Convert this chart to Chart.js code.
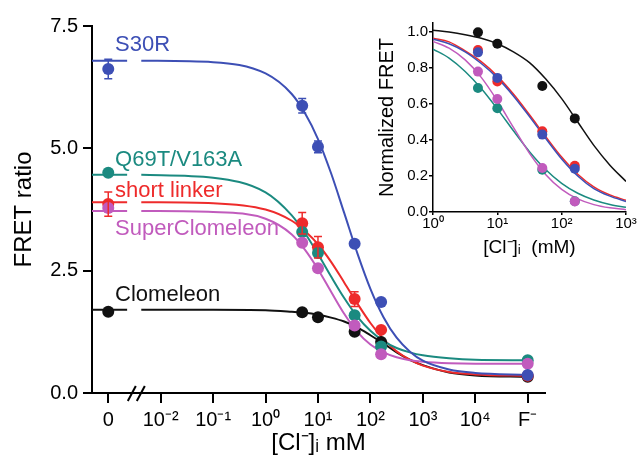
<!DOCTYPE html>
<html>

<head>
  <title>FRET ratio vs chloride</title>
  <script src="https://cdn.jsdelivr.net/npm/chart.js"></script>
  <style>
    body {
      margin: 0;
      background: #fff;
    }

    .wrap {
      position: relative;
      width: 637px;
      height: 468px;
    }

    #inset {
      position: absolute;
      left: 378px;
      top: 0;
    }
  </style>
</head>

<body>
  <div class="wrap">
    <canvas id="main" width="637" height="468"></canvas>
    <canvas id="inset" width="259" height="265"></canvas>
  </div>
  <script>
    // x axis is log10([Cl-] mM); "0" and "F-" columns sit one decade past the ends
    const zeroPos = -3;
    const fluoridePos = 5;
    const breakPos = -2.465;
    const clConc = [5, 10, 50, 160]; // mM

    const xTickPos = [-3, -2, -1, 0, 1, 2, 3, 4, 5];
    const xTickLabels = ['0', '10⁻²', '10⁻¹', '10⁰', '10¹', '10²', '10³', '10⁴', 'F⁻'];
    const yTicks = [0, 2.5, 5, 7.5];

    const names = ['S30R', 'Q69T/V163A', 'short linker', 'SuperClomeleon', 'Clomeleon'];
    const colors = ['#3d4fb5', '#1b8a80', '#ee2b2b', '#c15bbd', '#111111'];
    const drawRank = [0, 2, 3, 1, 4]; // 0 = on top

    // FRET ratio at [0 mM, 5, 10, 50, 160 mM, F-]
    const s30r = [6.62, 5.87, 5.03, 3.05, 1.86, 0.37];
    const q69t = [4.50, 3.29, 2.86, 1.59, 0.95, 0.67];
    const linker = [3.86, 3.47, 2.98, 1.92, 1.29, 0.35];
    const superClom = [3.78, 3.07, 2.55, 1.38, 0.79, 0.60];
    const clomeleon = [1.66, 1.65, 1.55, 1.25, 1.04, 0.33];

    const s30rErr = [0.2, 0.15, 0.12, 0, 0, 0];
    const linkerErr = [0.25, 0.22, 0.22, 0.15, 0, 0];

    // fitted curves (null = axis break)
    const fitX = [-3.31, -2.64, -2.5, -2.37, -1, 0, 0.5, 0.75, 1, 1.25, 1.5, 1.75, 2, 2.25, 2.5, 2.75, 3, 3.5, 4, 5];
    const s30rFit = [6.79, 6.79, null, 6.79, 6.76, 6.53, 6.11, 5.72, 5.19, 4.49, 3.68, 2.86, 2.13, 1.55, 1.13, 0.85, 0.66, 0.48, 0.41, 0.37];
    const q69tFit = [4.46, 4.46, null, 4.46, 4.40, 4.10, 3.63, 3.27, 2.84, 2.38, 1.94, 1.56, 1.27, 1.06, 0.92, 0.83, 0.77, 0.71, 0.68, 0.67];
    const linkerFit = [3.90, 3.90, null, 3.90, 3.88, 3.75, 3.52, 3.31, 3.04, 2.68, 2.26, 1.83, 1.43, 1.10, 0.85, 0.68, 0.56, 0.43, 0.38, 0.35];
    const superFit = [3.72, 3.72, null, 3.72, 3.70, 3.56, 3.24, 2.93, 2.53, 2.07, 1.62, 1.25, 0.99, 0.83, 0.73, 0.67, 0.64, 0.61, 0.60, 0.60];
    const clomFit = [1.70, 1.70, null, 1.70, 1.70, 1.69, 1.66, 1.64, 1.60, 1.54, 1.46, 1.34, 1.18, 1.01, 0.83, 0.68, 0.57, 0.42, 0.36, 0.33];

    // where the series names are written (data units)
    const labelX = -2.87;
    const labelY = [7.11, 4.76, 4.13, 3.35, 2.0];

    // inset: normalized FRET at 5, 10, 50, 160 mM
    const insetXTicks = [0, 1, 2, 3];
    const insetXLabels = ['10⁰', '10¹', '10²', '10³'];
    const insetYTicks = [0, 0.2, 0.4, 0.6, 0.8, 1.0];
    const s30rNorm = [0.887, 0.745, 0.43, 0.24];
    const q69tNorm = [0.689, 0.576, 0.235, 0.06];
    const linkerNorm = [0.90, 0.725, 0.448, 0.257];
    const superNorm = [0.78, 0.628, 0.244, 0.059];
    const clomNorm = [0.998, 0.935, 0.70, 0.52];

    const insetFitX = [0, 0.25, 0.5, 0.75, 1, 1.25, 1.5, 1.75, 2, 2.25, 2.5, 2.75, 3];
    const s30rNormFit = [0.96, 0.935, 0.89, 0.825, 0.745, 0.645, 0.53, 0.41, 0.295, 0.20, 0.13, 0.088, 0.058];
    const q69tNormFit = [0.905, 0.855, 0.781, 0.686, 0.573, 0.451, 0.335, 0.236, 0.159, 0.104, 0.067, 0.042, 0.026];
    const linkerNormFit = [0.965, 0.945, 0.895, 0.835, 0.755, 0.655, 0.54, 0.42, 0.305, 0.21, 0.14, 0.095, 0.065];
    const superNormFit = [0.948, 0.91, 0.845, 0.748, 0.618, 0.47, 0.326, 0.209, 0.126, 0.073, 0.041, 0.023, 0.013];
    const clomNormFit = [1.01, 1.00, 0.985, 0.965, 0.935, 0.89, 0.83, 0.74, 0.63, 0.50, 0.37, 0.26, 0.17];

    Chart.defaults.font.family = "'Liberation Sans', Arial, sans-serif";
    Chart.defaults.color = '#000';

    const pointX = [zeroPos, ...clConc.map(c => Math.log10(c)), fluoridePos];
    const pointSets = [s30r, q69t, linker, superClom, clomeleon];
    const errSets = [s30rErr, null, linkerErr, null, null];
    const fitSets = [s30rFit, q69tFit, linkerFit, superFit, clomFit];

    const normSets = [s30rNorm, q69tNorm, linkerNorm, superNorm, clomNorm];
    const normFitSets = [s30rNormFit, q69tNormFit, linkerNormFit, superNormFit, clomNormFit];

    const toXY = (xs, ys) => xs.map((x, i) => ({ x: x, y: ys[i] }));

    function buildDatasets(fx, fits, px, pts, errs, lineW, radius) {
      const sets = [];
      names.forEach((name, i) => {
        sets.push({
          label: name + ' fit',
          data: toXY(fx, fits[i]),
          borderColor: colors[i],
          borderWidth: lineW,
          pointRadius: 0,
          cubicInterpolationMode: 'monotone',
          spanGaps: false,
          order: 10 + drawRank[i]
        });
        sets.push({
          label: name,
          data: toXY(px, pts[i]),
          showLine: false,
          pointRadius: radius,
          pointBackgroundColor: colors[i],
          pointBorderColor: colors[i],
          pointBorderWidth: 0,
          errors: errs ? errs[i] : null,
          order: drawRank[i]
        });
      });
      return sets;
    }

    const errorBars = {
      id: 'errorBars',
      afterDatasetsDraw(chart) {
        const { ctx, scales: { y } } = chart;
        chart.data.datasets.forEach((ds, i) => {
          if (!ds.errors) return;
          const meta = chart.getDatasetMeta(i);
          ctx.save();
          ctx.strokeStyle = ds.pointBackgroundColor;
          ctx.lineWidth = 1.5;
          ds.data.forEach((p, j) => {
            const e = ds.errors[j];
            if (!e) return;
            const px = meta.data[j].x;
            const top = y.getPixelForValue(p.y + e);
            const bot = y.getPixelForValue(p.y - e);
            ctx.beginPath();
            ctx.moveTo(px, top); ctx.lineTo(px, bot);
            ctx.moveTo(px - 4, top); ctx.lineTo(px + 4, top);
            ctx.moveTo(px - 4, bot); ctx.lineTo(px + 4, bot);
            ctx.stroke();
          });
          ctx.restore();
        });
      }
    };

    const seriesLabels = {
      id: 'seriesLabels',
      afterDraw(chart) {
        const { ctx, scales: { x, y } } = chart;
        ctx.save();
        ctx.font = "22px 'Liberation Sans', Arial, sans-serif";
        ctx.textAlign = 'left';
        ctx.textBaseline = 'middle';
        names.forEach((name, i) => {
          ctx.fillStyle = colors[i];
          ctx.fillText(name, x.getPixelForValue(labelX), y.getPixelForValue(labelY[i]));
        });
        ctx.restore();
      }
    };

    const axisBreak = {
      id: 'axisBreak',
      afterDraw(chart) {
        const { ctx, scales: { x }, chartArea } = chart;
        const px = x.getPixelForValue(breakPos);
        const y0 = chartArea.bottom;
        ctx.save();
        ctx.strokeStyle = '#000';
        ctx.lineWidth = 2;
        [-4.5, 4.5].forEach(dx => {
          ctx.beginPath();
          ctx.moveTo(px + dx - 4, y0 + 8);
          ctx.lineTo(px + dx + 4, y0 - 7);
          ctx.stroke();
        });
        ctx.restore();
      }
    };

    new Chart(document.getElementById('main'), {
      type: 'line',
      data: { datasets: buildDatasets(fitX, fitSets, pointX, pointSets, errSets, 2, 6) },
      options: {
        responsive: false,
        animation: false,
        layout: { padding: { left: 0, right: 92, top: 26, bottom: 0 } },
        plugins: { legend: { display: false }, tooltip: { enabled: false } },
        scales: {
          x: {
            type: 'linear',
            min: -3.31,
            max: 5.33,
            afterBuildTicks: s => { s.ticks = xTickPos.map(v => ({ value: v })); },
            afterFit: s => { s.height = 75; },
            ticks: {
              font: { size: 20 },
              padding: 5,
              maxRotation: 0,
              callback: v => xTickLabels[xTickPos.indexOf(v)]
            },
            grid: { drawOnChartArea: false, tickLength: 10, tickWidth: 2, tickColor: '#000', lineWidth: 2 },
            border: { display: true, color: '#000', width: 2 },
            title: { display: true, text: '[Cl⁻]ᵢ mM', font: { size: 24 }, padding: { top: 0, bottom: 10 } }
          },
          y: {
            min: 0,
            max: 7.5,
            afterBuildTicks: s => { s.ticks = yTicks.map(v => ({ value: v })); },
            afterFit: s => { s.width = 92; },
            ticks: { font: { size: 20 }, padding: 5, callback: v => v.toFixed(1) },
            grid: { drawOnChartArea: false, tickLength: 9, tickWidth: 2, tickColor: '#000', lineWidth: 2 },
            border: { display: true, color: '#000', width: 2 },
            title: { display: true, text: 'FRET ratio', font: { size: 24 }, padding: { top: 10, bottom: 0 } }
          }
        }
      },
      plugins: [errorBars, seriesLabels, axisBreak]
    });

    new Chart(document.getElementById('inset'), {
      type: 'line',
      data: { datasets: buildDatasets(insetFitX, normFitSets, clConc.map(c => Math.log10(c)), normSets, null, 1.5, 5) },
      options: {
        responsive: false,
        animation: false,
        layout: { padding: { left: 0, right: 11, top: 23, bottom: 0 } },
        plugins: { legend: { display: false }, tooltip: { enabled: false } },
        scales: {
          x: {
            type: 'linear',
            min: 0,
            max: 3,
            afterBuildTicks: s => { s.ticks = insetXTicks.map(v => ({ value: v })); },
            afterFit: s => { s.height = 53; },
            ticks: {
              font: { size: 15 },
              padding: 0,
              maxRotation: 0,
              callback: v => insetXLabels[insetXTicks.indexOf(v)]
            },
            grid: { drawOnChartArea: false, tickLength: 3, tickWidth: 1.5, tickColor: '#000', lineWidth: 1.5 },
            border: { display: true, color: '#000', width: 1.5 },
            title: { display: true, text: '[Cl⁻]ᵢ  (mM)', font: { size: 19 }, padding: { top: 0, bottom: 6 } }
          },
          y: {
            min: 0,
            max: 1.05,
            afterBuildTicks: s => { s.ticks = insetYTicks.map(v => ({ value: v })); },
            afterFit: s => { s.width = 55; },
            ticks: { font: { size: 15 }, padding: 1, callback: v => v.toFixed(1) },
            grid: { drawOnChartArea: false, tickLength: 4, tickWidth: 1.5, tickColor: '#000', lineWidth: 1.5 },
            border: { display: true, color: '#000', width: 1.5 },
            title: { display: true, text: 'Normalized FRET', font: { size: 20, lineHeight: 1 }, padding: { top: -1, bottom: 0 } }
          }
        }
      }
    });
  </script>
</body>

</html>
